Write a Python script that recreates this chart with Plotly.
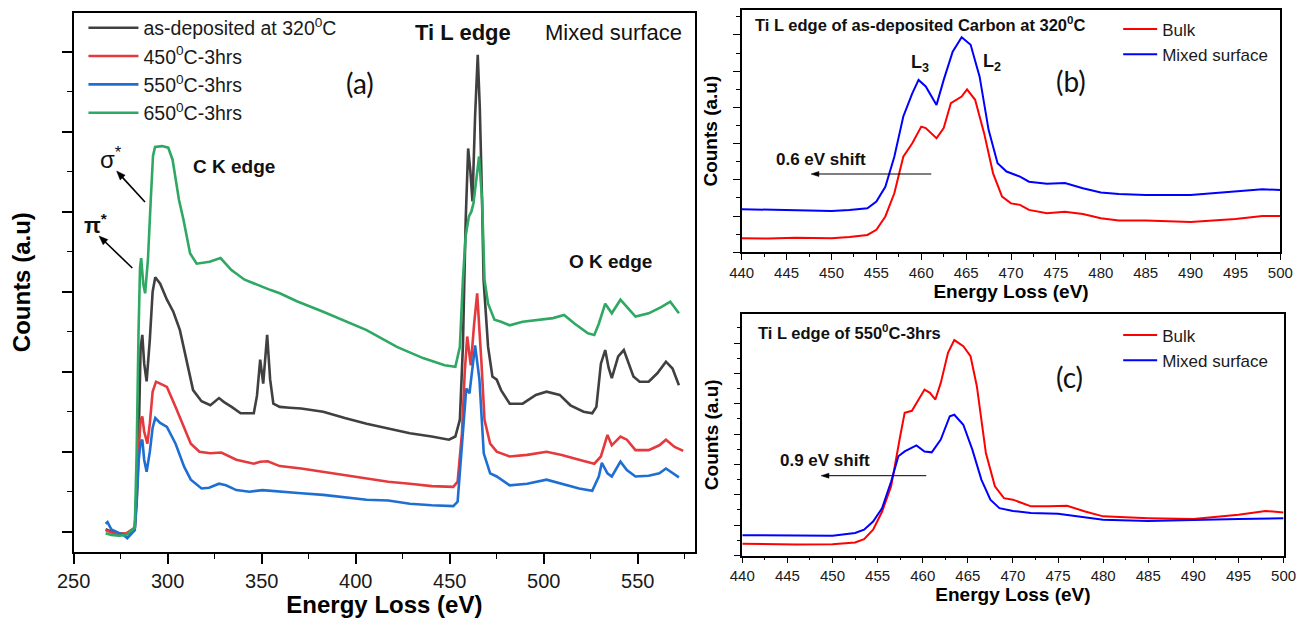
import math
import plotly.graph_objects as go

W, H = 1309, 618

# ---------------- Panel (a) data : EELS spectra, mixed surface ----------------
E_asdep = [267, 270, 274, 278, 281, 282.5, 283.5, 284.6, 285.6, 286.5, 287.5, 288.8, 290.5, 292, 293.4, 296,
           299.6, 303, 306.5, 310, 313.5, 318, 322.7, 327.3, 330, 334, 338.8, 345.8, 347.5, 349.2, 350.8,
           352.9, 354.5, 356.2, 359.6, 365, 371, 382.7, 394.2, 405.8, 417.3, 428.8, 440.4, 449.6, 453,
           455.4, 457, 458.5, 459.8, 461, 462.1, 463.5, 464.9, 466, 467.2, 468, 470.4, 472.7, 475, 477.3,
           481.9, 488.8, 495.8, 501.5, 508.5, 514.2, 521.2, 525.8, 528, 530.4, 532.7, 534.5, 536.2, 539.6,
           542.6, 545, 547.7, 551, 555.8, 560.4, 565, 568.5, 571.9]
I_asdep = [0.03, 0.0, -0.02, -0.03, 0.0, 0.05, 0.5, 1.2, 2.3, 2.46, 2.1, 1.88, 2.4, 3.0, 3.18, 3.1,
           2.9, 2.75, 2.52, 2.15, 1.77, 1.63, 1.58, 1.67, 1.62, 1.56, 1.48, 1.48, 1.7, 2.15, 1.85,
           2.46, 1.9, 1.6, 1.56, 1.55, 1.54, 1.5, 1.42, 1.35, 1.29, 1.23, 1.19, 1.15, 1.19,
           1.4, 2.31, 3.9, 4.79, 4.5, 4.13, 5.2, 5.96, 5.3, 4.15, 3.15, 2.31, 1.94, 1.9, 1.77,
           1.6, 1.6, 1.71, 1.75, 1.71, 1.58, 1.5, 1.48, 1.56, 2.1, 2.27, 2.05, 1.92, 2.19,
           2.27, 2.12, 1.94, 1.875, 1.875, 1.98, 2.125, 2.04, 1.83]

E_450 = [267, 270, 274, 278, 282.5, 283.5, 284.6, 285.6, 286.5, 287.5, 289.2, 290.5, 292, 293.8, 296, 299.6,
         304.2, 308.8, 312.3, 316.9, 322.7, 328.5, 336.5, 345.8, 349.2, 353.2, 359.6, 371, 382.7, 394.2,
         405.8, 417.3, 428.8, 440.4, 451.9, 454.2, 456.5, 458, 459.3, 461.2, 463, 464.6, 466.9, 468.5,
         471.5, 475, 481.9, 491.2, 501.5, 509.6, 518.8, 526.9, 530.4, 533.9, 536.2, 540.8, 544.2, 548.8,
         555.8, 561.5, 565, 569.6, 574.2]
I_450 = [0.02, -0.01, -0.03, -0.02, 0.05, 0.4, 1.0, 1.4, 1.44, 1.25, 1.1, 1.35, 1.75, 1.875, 1.85, 1.81,
         1.56, 1.31, 1.1, 1.0, 0.98, 0.99, 0.9, 0.85, 0.875, 0.88, 0.82, 0.79, 0.75, 0.71,
         0.67, 0.625, 0.6, 0.57, 0.56, 0.625, 1.23, 2.0, 2.44, 2.08, 2.6, 2.98, 2.1, 1.4,
         1.1, 1.0, 0.94, 0.96, 1.0, 0.96, 0.9, 0.85, 0.94, 1.21, 1.08, 1.19, 1.15, 1.02,
         1.02, 1.08, 1.15, 1.06, 1.01]

E_550 = [267, 268, 270, 274, 277, 278.5, 280, 282.5, 283.5, 284.6, 285.6, 286.5, 287.5, 288.8, 290.5, 292,
         293.4, 296, 299.6, 304.2, 308.8, 312.3, 318, 322, 327.3, 331, 336.5, 343.5, 350.4, 359.6, 371,
         382.7, 394.2, 405.8, 417.3, 428.8, 440.4, 451.9, 454.2, 456.5, 458.8, 460.5, 462, 463.5, 465.8,
         468.1, 471.5, 475, 481.9, 491.2, 501.5, 509.6, 518.8, 525.8, 529.3, 530.9, 533.9, 536.2, 540.8,
         544.2, 548.8, 555.8, 561.5, 565, 568.5, 571.9]
I_550 = [0.1, 0.12, 0.03, -0.02, -0.05, -0.08, -0.04, 0.02, 0.35, 0.9, 1.12, 1.15, 0.9, 0.75, 1.0, 1.3,
         1.42, 1.36, 1.31, 1.1, 0.81, 0.65, 0.54, 0.55, 0.6, 0.58, 0.52, 0.5, 0.52, 0.5, 0.48,
         0.46, 0.43, 0.4, 0.39, 0.35, 0.33, 0.32, 0.375, 1.06, 1.79, 1.73, 2.0, 2.33, 1.9,
         0.98, 0.73, 0.69, 0.58, 0.6, 0.65, 0.6, 0.54, 0.51, 0.69, 0.86, 0.73, 0.69, 0.875,
         0.77, 0.69, 0.7, 0.73, 0.79, 0.73, 0.68]

E_650 = [267, 270, 274, 278, 282.5, 283.5, 284.5, 285.3, 285.9, 287, 288, 289.5, 291, 292.2, 293.3, 297,
         300.3, 302.6, 306, 308.4, 311.9, 315.4, 322.3, 328.1, 333.9, 340.9, 354.8, 359.6, 368.7, 382.7,
         405.8, 421.9, 435.8, 447.3, 453, 455.4, 457, 458.5, 460.2, 461.5, 462.6, 464, 465.6, 467.2,
         468.5, 470.4, 473.8, 477.3, 481.9, 488.8, 498.1, 505, 510.8, 516.5, 523.5, 526.9, 529.3, 532.7,
         536.2, 540.8, 544.2, 548.8, 555.8, 562.7, 567.3, 571.9]
I_650 = [-0.02, -0.04, -0.05, -0.04, 0.05, 1.0, 2.5, 3.3, 3.42, 3.1, 2.98, 3.4, 4.15, 4.7, 4.81, 4.82,
         4.8, 4.65, 4.15, 3.9, 3.48, 3.35, 3.375, 3.42, 3.27, 3.15, 3.02, 2.98, 2.88, 2.75,
         2.52, 2.31, 2.17, 2.08, 2.06, 2.31, 3.15, 3.7, 3.94, 4.0, 4.1, 4.4, 4.69, 4.15,
         3.15, 2.85, 2.65, 2.625, 2.58, 2.625, 2.65, 2.67, 2.71, 2.6, 2.48, 2.46, 2.6, 2.85,
         2.73, 2.9, 2.81, 2.69, 2.73, 2.81, 2.875, 2.73]

names_a = ["as-deposited at 320<sup>0</sup>C", "450<sup>0</sup>C-3hrs", "550<sup>0</sup>C-3hrs", "650<sup>0</sup>C-3hrs"]
colors_a = ["#404040", "#e5393d", "#1f6fd3", "#2ea862"]

# ---------------- Panel (b) data : Ti L edge, as-deposited ----------------
E_b_bulk = [440, 443, 446, 450, 452, 454, 455, 456, 457, 458, 459, 460, 460.5, 461.7, 462.5, 463.3, 464.5,
            465.1, 466, 467, 468, 469, 470, 471, 472, 474, 476, 478, 480, 482, 485, 490, 495, 498, 500]
I_b_bulk = [0.39, 0.38, 0.4, 0.39, 0.42, 0.48, 0.62, 0.99, 1.63, 2.64, 3.01, 3.47, 3.43, 3.15, 3.43, 4.12, 4.3,
            4.5, 4.21, 3.29, 2.18, 1.54, 1.35, 1.31, 1.17, 1.08, 1.12, 1.06, 0.94, 0.875, 0.875, 0.84, 0.92, 1.0, 1.0]
E_b_mixed = [440, 443, 446, 450, 452, 454, 455, 456, 457, 458, 459, 459.7, 460.5, 461.7, 462.5, 463.5, 464.5,
             465.5, 466.5, 467.5, 468.5, 469.5, 471, 472, 474, 476, 478, 480, 482, 485, 490, 495, 498, 500]
I_b_mixed = [1.19, 1.17, 1.16, 1.14, 1.17, 1.215, 1.4, 1.81, 2.64, 3.75, 4.39, 4.76, 4.58, 4.07, 4.76, 5.54, 5.94,
             5.73, 4.85, 3.38, 2.46, 2.23, 2.09, 1.95, 1.89, 1.91, 1.77, 1.65, 1.61, 1.58, 1.58, 1.68, 1.74, 1.72]

# ---------------- Panel (c) data : Ti L edge, 550C-3hrs ----------------
E_c_bulk = [440, 443, 446, 450, 452.5, 453.5, 454.5, 455.5, 456.5, 457.5, 458, 458.8, 459.5, 460.2, 460.8, 461.4,
            462, 462.8, 463.5, 464.5, 465.3, 466, 467, 468, 469, 470, 471, 472, 474, 476, 478, 480, 485, 490,
            495, 498, 500]
I_c_bulk = [0.385, 0.37, 0.36, 0.37, 0.43, 0.54, 0.85, 1.45, 2.28, 3.93, 4.7, 4.77, 5.14, 5.47, 5.36, 5.14,
            5.69, 6.68, 7.1, 6.9, 6.57, 5.58, 3.38, 2.28, 1.89, 1.84, 1.73, 1.62, 1.62, 1.64, 1.45, 1.29, 1.23, 1.2,
            1.34, 1.47, 1.42]
E_c_mixed = [440, 443, 446, 450, 452.5, 453.5, 454.5, 455.5, 456.5, 457.3, 458, 459.3, 460.2, 461, 462, 463,
             463.5, 464.5, 465.5, 466.5, 467.5, 468.5, 470, 472, 475, 478, 480, 485, 490, 495, 500]
I_c_mixed = [0.67, 0.66, 0.64, 0.65, 0.74, 0.85, 1.12, 1.56, 2.44, 3.27, 3.43, 3.63, 3.43, 3.4, 3.82, 4.59,
             4.64, 4.31, 3.49, 2.5, 1.84, 1.56, 1.47, 1.4, 1.375, 1.27, 1.18, 1.14, 1.16, 1.2, 1.23]

names_bc = ["Bulk", "Mixed surface"]
colors_bc = ["#ff0000", "#0000ff"]

# ---------------------------------------------------------------------------
def px(x):
    return x / W

def py(y):
    return 1 - y / H

FONT = "Liberation Sans, Arial, sans-serif"
fig = go.Figure()

series_a = [(E_asdep, I_asdep), (E_450, I_450), (E_550, I_550), (E_650, I_650)]
for (e, i), n, c in zip(series_a, names_a, colors_a):
    fig.add_trace(go.Scatter(x=e, y=i, name=n, mode="lines", line=dict(color=c, width=2.6),
                             xaxis="x", yaxis="y", legend="legend"))

for (e, i), n, c in zip([(E_b_bulk, I_b_bulk), (E_b_mixed, I_b_mixed)], names_bc, colors_bc):
    fig.add_trace(go.Scatter(x=e, y=i, name=n, mode="lines", line=dict(color=c, width=2),
                             xaxis="x2", yaxis="y2", legend="legend2"))
for (e, i), n, c in zip([(E_c_bulk, I_c_bulk), (E_c_mixed, I_c_mixed)], names_bc, colors_bc):
    fig.add_trace(go.Scatter(x=e, y=i, name=n, mode="lines", line=dict(color=c, width=2),
                             xaxis="x3", yaxis="y3", legend="legend3"))

axis_common = dict(showline=True, mirror=True, linecolor="black", showgrid=False, zeroline=False,
                   ticks="outside", tickcolor="black", fixedrange=True)

fig.update_layout(
    width=W, height=H, margin=dict(l=0, r=0, t=0, b=0),
    plot_bgcolor="white", paper_bgcolor="white",
    font=dict(family=FONT, color="#1a1a1a"),
    xaxis=dict(domain=[px(58), px(694)], range=[250, 580.5], anchor="y", tickmode="linear", tick0=250, dtick=50,
               ticklen=10, tickwidth=1.6, linewidth=1.8, tickfont=dict(size=20),
               minor=dict(dtick=25, tick0=250, ticklen=5, ticks="outside", tickcolor="black", tickwidth=1.4),
               title=dict(text="<b>Energy Loss (eV)</b>", font=dict(size=24, color="black"), standoff=4),
               **axis_common),
    yaxis=dict(domain=[py(551.7), py(12.7)], range=[-0.25, 6.4875], anchor="x", tickmode="linear", tick0=0, dtick=1,
               ticklen=10, tickwidth=1.6, linewidth=1.8, showticklabels=False,
               minor=dict(dtick=0.5, tick0=0, ticklen=5, ticks="outside", tickcolor="black", tickwidth=1.4),
               title=dict(text="<b>Counts (a.u)</b>", font=dict(size=24, color="black"), standoff=24),
               **axis_common),
    xaxis2=dict(domain=[px(741.7), px(1293)], range=[440, 500], anchor="y2", tickmode="linear", tick0=440, dtick=5,
                ticklen=6, tickwidth=1.3, linewidth=1.5, tickfont=dict(size=15),
                minor=dict(dtick=2.5, tick0=440, ticklen=3, ticks="outside", tickcolor="black", tickwidth=1.2),
                title=dict(text="<b>Energy Loss (eV)</b>", font=dict(size=19, color="black"), standoff=4),
                **axis_common),
    yaxis2=dict(domain=[py(252.3), py(10)], range=[0, 6.69], anchor="x2", tickmode="linear", tick0=0, dtick=1,
                ticklen=7, tickwidth=1.3, linewidth=1.5, showticklabels=False,
                minor=dict(dtick=0.5, tick0=0, ticklen=3.5, ticks="outside", tickcolor="black", tickwidth=1.2),
                title=dict(text="<b>Counts (a.u)</b>", font=dict(size=19, color="black"), standoff=10),
                **axis_common),
    xaxis3=dict(domain=[px(742.3), px(1296.3)], range=[440, 500], anchor="y3", tickmode="linear", tick0=440, dtick=5,
                ticklen=6, tickwidth=1.3, linewidth=1.5, tickfont=dict(size=15),
                minor=dict(dtick=2.5, tick0=440, ticklen=3, ticks="outside", tickcolor="black", tickwidth=1.2),
                title=dict(text="<b>Energy Loss (eV)</b>", font=dict(size=19, color="black"), standoff=4),
                **axis_common),
    yaxis3=dict(domain=[py(555.5), py(314)], range=[0, 7.96], anchor="x3", tickmode="linear", tick0=0, dtick=1,
                ticklen=7, tickwidth=1.3, linewidth=1.5, showticklabels=False,
                minor=dict(dtick=0.5, tick0=0, ticklen=3.5, ticks="outside", tickcolor="black", tickwidth=1.2),
                title=dict(text="<b>Counts (a.u)</b>", font=dict(size=19, color="black"), standoff=10),
                **axis_common),
    legend=dict(x=px(68), y=py(8.5), xanchor="left", yanchor="top", bgcolor="rgba(0,0,0,0)",
                font=dict(size=19.5, color="#1a1a1a"), itemwidth=50),
    legend2=dict(x=px(1127), y=py(11.5), xanchor="left", yanchor="top", bgcolor="rgba(0,0,0,0)",
                 font=dict(size=17, color="#1a1a1a"), itemwidth=34),
    legend3=dict(x=px(1127), y=py(317.5), xanchor="left", yanchor="top", bgcolor="rgba(0,0,0,0)",
                 font=dict(size=17, color="#1a1a1a"), itemwidth=34),
    showlegend=True,
)

annotations = []
shapes = []

def ann(text, x, y, size, family=FONT, xanchor="center", color="#111111"):
    annotations.append(dict(text=text, x=px(x), y=py(y), xref="paper", yref="paper", showarrow=False,
                            xanchor=xanchor, yanchor="middle", font=dict(size=size, family=family, color=color)))

def arrow(x_head, y_head, x_tail, y_tail, width=1.6, head_len=9, head_w=7):
    # shaft
    dx, dy = x_head - x_tail, y_head - y_tail
    L = math.hypot(dx, dy)
    ux, uy = dx / L, dy / L
    bx, by = x_head - ux * head_len, y_head - uy * head_len
    shapes.append(dict(type="line", xref="paper", yref="paper",
                       x0=px(x_tail), y0=py(y_tail), x1=px(bx + ux * 1), y1=py(by + uy * 1),
                       line=dict(color="black", width=width)))
    nx, ny = -uy, ux
    p1 = (bx + nx * head_w / 2, by + ny * head_w / 2)
    p2 = (bx - nx * head_w / 2, by - ny * head_w / 2)
    path = "M {:.5f} {:.5f} L {:.5f} {:.5f} L {:.5f} {:.5f} Z".format(
        px(x_head), py(y_head), px(p1[0]), py(p1[1]), px(p2[0]), py(p2[1]))
    shapes.append(dict(type="path", xref="paper", yref="paper", path=path,
                       fillcolor="black", line=dict(color="black", width=0.5)))

# panel (a)
ann("<b>Ti L edge</b>", 456, 33, 22)
ann("Mixed surface", 611, 33, 22)
ann("(a)", 351, 83, 28, family="Lato, Liberation Sans, sans-serif")
ann("<b>C K edge</b>", 222, 167, 19)
ann("<b>O K edge</b>", 607, 261, 19)
ann("σ<sup>*</sup>", 96, 158, 24)
ann("<b>π<sup>*</sup></b>", 80, 224, 22)
arrow(102, 171, 131, 202)
arrow(84, 236, 118, 268)

# panel (b)
ann("<b>Ti L edge of as-deposited Carbon at 320<sup>0</sup>C</b>", 753.5, 24, 16.5, xanchor="left")
ann("<b>L<sub>3</sub></b>", 924, 64, 18)
ann("<b>L<sub>2</sub></b>", 998, 62, 18)
ann("(b)", 1079, 81, 28, family="Lato, Liberation Sans, sans-serif")
ann("<b>0.6 eV shift</b>", 823, 159, 17)
arrow(812.7, 174, 935.7, 174, width=1.0, head_len=8, head_w=5)

# panel (c)
ann("<b>Ti L edge of 550<sup>0</sup>C-3hrs</b>", 756, 332, 16.5, xanchor="left")
ann("(c)", 1077, 377, 28, family="Lato, Liberation Sans, sans-serif")
ann("<b>0.9 eV shift</b>", 827, 460, 17)
arrow(823, 475.7, 930.6, 475.7, width=1.0, head_len=8, head_w=5)

fig.update_layout(annotations=annotations, shapes=shapes)
fig.write_html("out.html")
